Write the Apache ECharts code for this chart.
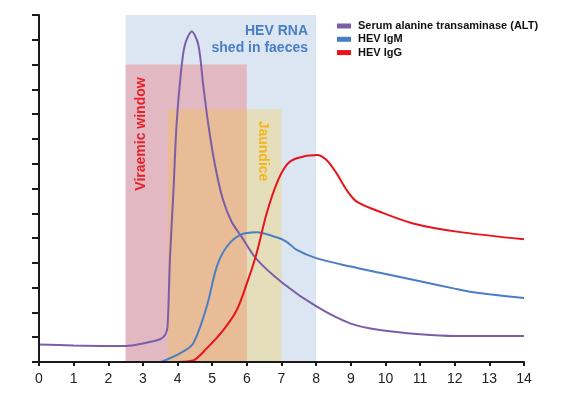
<!DOCTYPE html>
<html>
<head>
<meta charset="utf-8">
<script src="https://cdn.jsdelivr.net/npm/echarts@6/dist/echarts.min.js"></script>
<style>
  html, body { margin: 0; padding: 0; background: #fff; }
  #main { width: 563px; height: 398px; }
</style>
</head>
<body>
<div id="main"></div>
<script>
// 图例名称
var seriesNames = ['Serum alanine transaminase (ALT)', 'HEV IgM', 'HEV IgG'];
var xTicks = [0, 14];
// 曲线数据 [周, 水平]
var altData = [[0, 0.71], [1, 0.67], [2, 0.65], [2.5, 0.65], [3, 0.75], [3.49, 0.92], [3.64, 1.09], [3.71, 1.42],
  [3.78, 4.18], [3.88, 6.87], [3.97, 9.56], [4.09, 11.58], [4.21, 12.79], [4.41, 13.33], [4.6, 12.79],
  [4.74, 11.17], [4.89, 9.56], [5.08, 7.95], [5.3, 6.6], [5.56, 5.66], [5.85, 5.05], [6.28, 4.15], [7.05, 3.17],
  [8.02, 2.23], [8.98, 1.56], [9.84, 1.29], [11, 1.12], [12, 1.05], [14, 1.05]];
var igmData = [[3.52, 0], [4.07, 0.35], [4.45, 0.75], [4.84, 2.23], [5.13, 3.84], [5.42, 4.65], [5.8, 5.12],
  [6.28, 5.23], [6.86, 5.03], [7.15, 4.85], [7.44, 4.52], [8.02, 4.18], [9, 3.85], [9.84, 3.6], [11, 3.26],
  [12, 2.96], [12.5, 2.82], [13, 2.73], [14, 2.58]];
var iggData = [[4, 0], [4.45, 0.06], [4.84, 0.55], [5.32, 1.29], [5.71, 2.1], [6.0, 3.17], [6.28, 4.38],
  [6.57, 5.99], [6.86, 7.2], [7.15, 7.95], [7.44, 8.22], [8.02, 8.35], [8.3, 8.15], [8.59, 7.61], [8.88, 6.94],
  [9.17, 6.47], [9.84, 6.06], [10.8, 5.59], [12.06, 5.26], [14, 4.95]];
// 区域 [开始, 结束, 高度]
var rnaRegion = [2.5, 8, 14];
var viraemicRegion = [2.5, 6, 12];
var jaundiceRegion = [3.72, 7, 10.2];

var colors = ['#7b5ea7', '#4a7ec4', '#e8141c'];
var font = 'Liberation Sans, Arial, sans-serif';

var mychart = echarts.init(document.getElementById('main'));

function area(r, color) {
  return [{xAxis: r[0], yAxis: 0, itemStyle: {color: color}}, {xAxis: r[1], yAxis: r[2]}];
}

function curve(name, data, color) {
  return {
    name: name,
    type: 'line',
    data: data,
    z: 3,
    smooth: 0.3,
    showSymbol: false,
    color: color,
    lineStyle: {width: 2}
  };
}

var option = {
  animation: false,
  grid: {left: 39, right: 39, top: 15, bottom: 36},
  legend: {
    orient: 'vertical',
    left: 337,
    top: 20,
    padding: 0,
    itemGap: 1.3,
    itemWidth: 14,
    itemHeight: 5,
    icon: 'rect',
    data: seriesNames,
    textStyle: {fontFamily: font, fontWeight: 'bold', fontSize: 11, color: '#111', lineHeight: 12, padding: [0, 0, 0, 2]}
  },
  xAxis: {
    type: 'value',
    min: xTicks[0],
    max: xTicks[1],
    interval: 1,
    z: 10,
    splitLine: {show: false},
    axisLine: {lineStyle: {color: '#1a1a1a', width: 2}},
    axisTick: {length: 4, lineStyle: {color: '#1a1a1a', width: 2}},
    axisLabel: {fontFamily: font, fontSize: 14, color: '#222', margin: 10}
  },
  yAxis: {
    type: 'value',
    min: 0,
    max: 14,
    interval: 1,
    z: 10,
    splitLine: {show: false},
    axisLine: {show: true, lineStyle: {color: '#1a1a1a', width: 2}},
    axisTick: {show: true, length: 7, lineStyle: {color: '#1a1a1a', width: 2}},
    axisLabel: {show: false}
  },
  series: [{
    name: 'regions',
    type: 'line',
    data: [],
    z: 1,
    silent: true,
    markArea: {
      silent: true,
      label: {show: false},
      data: [
        area(rnaRegion, '#dce6f2'),
        area(viraemicRegion, 'rgba(244,46,50,0.25)'),
        area(jaundiceRegion, 'rgba(252,198,18,0.25)')
      ]
    }
  },
    curve(seriesNames[0], altData, colors[0]),
    curve(seriesNames[1], igmData, colors[1]),
    curve(seriesNames[2], iggData, colors[2])
  ],
  graphic: [{
    type: 'text',
    z: 20,
    style: {text: 'HEV RNA\nshed in faeces', x: 308, y: 23, align: 'right', verticalAlign: 'top',
      font: 'bold 14px ' + font, fill: '#4a7ec4', lineHeight: 17}
  }, {
    type: 'text',
    z: 20,
    x: 141, y: 134, rotation: Math.PI / 2,
    style: {text: 'Viraemic window', x: 0, y: 0, align: 'center', verticalAlign: 'middle',
      font: 'bold 14px ' + font, fill: '#e8202a'}
  }, {
    type: 'text',
    z: 20,
    x: 263, y: 151, rotation: -Math.PI / 2,
    style: {text: 'Jaundice', x: 0, y: 0, align: 'center', verticalAlign: 'middle',
      font: 'bold 14px ' + font, fill: '#f5b41a'}
  }]
};
mychart.setOption(option);
</script>
</body>
</html>
